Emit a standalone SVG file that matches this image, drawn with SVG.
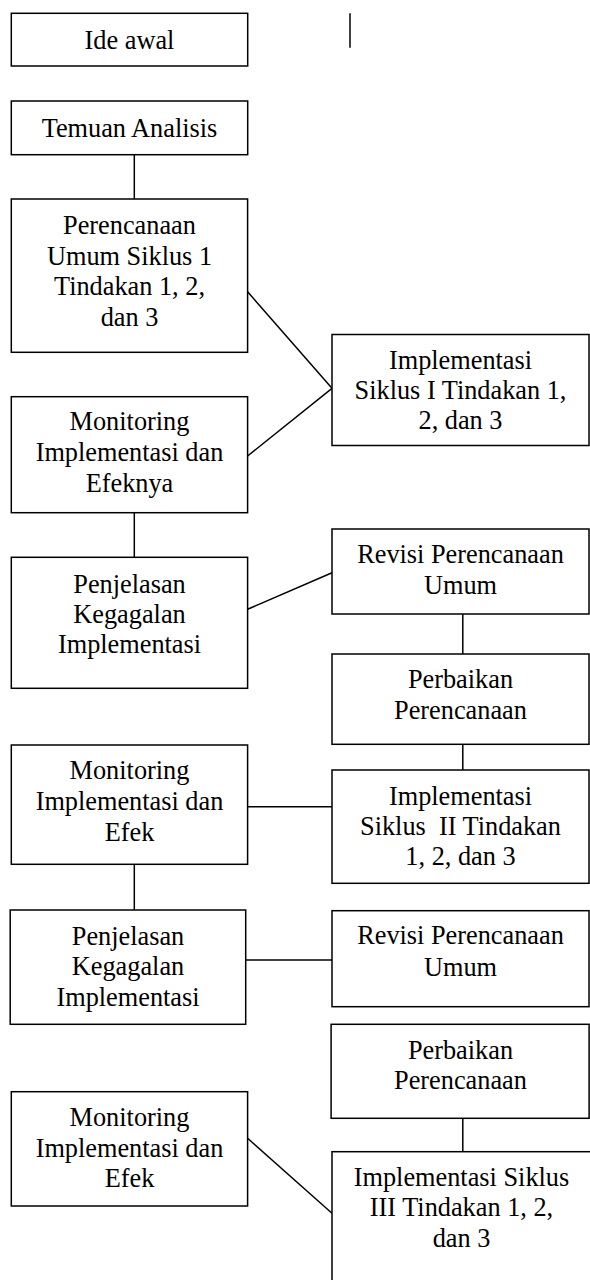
<svg xmlns="http://www.w3.org/2000/svg" width="590" height="1280" viewBox="0 0 590 1280">
<style>
rect{fill:#fff;stroke:#000;stroke-width:1.5}
line{stroke:#000;stroke-width:1.5}
text{font-size:26.3px;fill:#000;text-anchor:middle}
</style>
<rect x="0" y="0" width="590" height="1280" style="stroke:none"/>
<g id="connectors">
<line x1="350" y1="13.3" x2="350" y2="47.7"/>
<line x1="134.3" y1="154.7" x2="134.3" y2="199"/>
<line x1="247.6" y1="291.7" x2="332" y2="388.3"/>
<line x1="247.6" y1="456" x2="332" y2="388.3"/>
<line x1="134.3" y1="512.7" x2="134.3" y2="557.3"/>
<line x1="247.6" y1="609.3" x2="332" y2="572.7"/>
<line x1="462.8" y1="614" x2="462.8" y2="654"/>
<line x1="462.8" y1="724" x2="462.8" y2="770"/>
<line x1="247.6" y1="806.7" x2="332" y2="806.7"/>
<line x1="134.3" y1="864.3" x2="134.3" y2="910"/>
<line x1="245.7" y1="960" x2="332" y2="960"/>
<line x1="462.8" y1="1100" x2="462.8" y2="1151.7"/>
<line x1="247.6" y1="1138.3" x2="332" y2="1213.3"/>
</g>
<g font-family="'Liberation Serif', 'Times New Roman', 'DejaVu Serif', serif">
<g id="ide-awal">
<rect x="11.3" y="13.3" width="236.4" height="52.7"/>
<text x="129.5" y="49.3">Ide awal</text>
</g>
<g id="temuan-analisis">
<rect x="11.3" y="101" width="236.4" height="53.7"/>
<text x="129.5" y="137">Temuan Analisis</text>
</g>
<g id="perencanaan-umum">
<rect x="11.3" y="199" width="236.3" height="153.3"/>
<text x="129.5" y="234">Perencanaan</text>
<text x="129.5" y="265">Umum Siklus 1</text>
<text x="129.5" y="295">Tindakan 1, 2,</text>
<text x="129.5" y="325.7">dan 3</text>
</g>
<g id="implementasi-1">
<rect x="332" y="334.5" width="257" height="111"/>
<text x="460.5" y="369.3">Implementasi</text>
<text x="460.5" y="399">Siklus I Tindakan 1,</text>
<text x="460.5" y="429">2, dan 3</text>
</g>
<g id="monitoring-1">
<rect x="11.3" y="396.7" width="236.3" height="116"/>
<text x="129.5" y="430">Monitoring</text>
<text x="129.5" y="461">Implementasi dan</text>
<text x="129.5" y="491.7">Efeknya</text>
</g>
<g id="penjelasan-1">
<rect x="11.3" y="557.3" width="236.3" height="131"/>
<text x="129.5" y="592.7">Penjelasan</text>
<text x="129.5" y="622.7">Kegagalan</text>
<text x="129.5" y="653.3">Implementasi</text>
</g>
<g id="revisi-1">
<rect x="332" y="529" width="257" height="85"/>
<text x="460.5" y="563.3">Revisi Perencanaan</text>
<text x="460.5" y="594">Umum</text>
</g>
<g id="perbaikan-1">
<rect x="332" y="654" width="257" height="90.3"/>
<text x="460.5" y="688.3">Perbaikan</text>
<text x="460.5" y="719.3">Perencanaan</text>
</g>
<g id="monitoring-2">
<rect x="11.3" y="745" width="236.3" height="119.3"/>
<text x="129.5" y="779.3">Monitoring</text>
<text x="129.5" y="810">Implementasi dan</text>
<text x="129.5" y="840.7">Efek</text>
</g>
<g id="implementasi-2">
<rect x="332" y="770" width="257" height="113.3"/>
<text x="460.5" y="805">Implementasi</text>
<text x="460.5" y="835" xml:space="preserve">Siklus  II Tindakan</text>
<text x="460.5" y="865">1, 2, dan 3</text>
</g>
<g id="penjelasan-2">
<rect x="10.2" y="910" width="235.5" height="114.3"/>
<text x="128" y="945">Penjelasan</text>
<text x="128" y="975">Kegagalan</text>
<text x="128" y="1006">Implementasi</text>
</g>
<g id="revisi-2">
<rect x="332" y="910.7" width="257" height="96"/>
<text x="460.5" y="944.3">Revisi Perencanaan</text>
<text x="460.5" y="975.7">Umum</text>
</g>
<g id="perbaikan-2">
<rect x="331.1" y="1024.3" width="258" height="94"/>
<text x="460.5" y="1059">Perbaikan</text>
<text x="460.5" y="1089">Perencanaan</text>
</g>
<g id="monitoring-3">
<rect x="11.3" y="1091.7" width="236.3" height="114.3"/>
<text x="129.5" y="1126">Monitoring</text>
<text x="129.5" y="1156.7">Implementasi dan</text>
<text x="129.5" y="1187.3">Efek</text>
</g>
<g id="implementasi-3">
<rect x="332" y="1151.7" width="270" height="200"/>
<text x="461.5" y="1186">Implementasi Siklus</text>
<text x="461.5" y="1216">III Tindakan 1, 2,</text>
<text x="461.5" y="1246.7">dan 3</text>
</g>
</g>
</svg>
